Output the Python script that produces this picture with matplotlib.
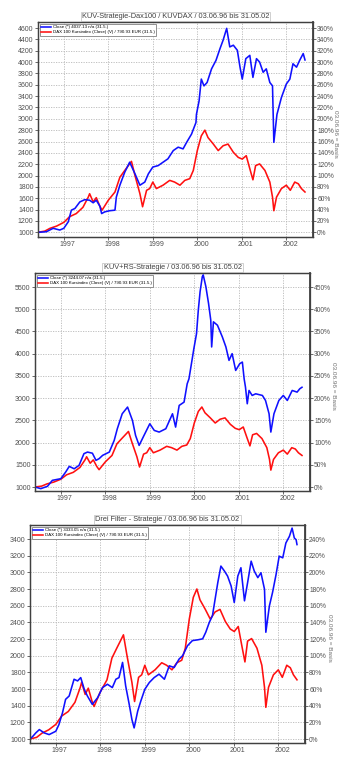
import matplotlib
matplotlib.use("Agg")
import matplotlib.pyplot as plt
from matplotlib.transforms import ScaledTranslation
from matplotlib.ticker import FixedLocator, FuncFormatter

plt.rcParams["font.family"] = ["Liberation Sans Narrow", "Liberation Sans", "DejaVu Sans"]

# Zeitachse in Dezimaljahren, Werte auf 03.06.96 = 1000 normiert
# DAX 100 Kursindex (gleiche Referenz in allen drei Strategien)
dax_t = [1996.42, 1996.57, 1996.69, 1996.84, 1997.00, 1997.13, 1997.28, 1997.43,
         1997.55, 1997.58, 1997.66, 1997.73, 1997.81, 1997.86, 1998.00, 1998.15,
         1998.26, 1998.37, 1998.45, 1998.52, 1998.60, 1998.71, 1998.77, 1998.86,
         1998.93, 1999.00, 1999.08, 1999.23, 1999.38, 1999.49, 1999.61, 1999.72,
         1999.83, 1999.91, 2000.00, 2000.09, 2000.17, 2000.24, 2000.36, 2000.47,
         2000.58, 2000.69, 2000.81, 2000.92, 2001.01, 2001.10, 2001.18, 2001.25,
         2001.31, 2001.40, 2001.52, 2001.63, 2001.69, 2001.72, 2001.78, 2001.89,
         2002.00, 2002.09, 2002.19, 2002.27, 2002.34, 2002.42]
dax_v = [1000, 1020, 1070, 1110, 1175, 1275, 1330, 1440,
         1620, 1680, 1535, 1610, 1460, 1390, 1565, 1710,
         1970, 2090, 2175, 2250, 2000, 1680, 1450, 1740,
         1770, 1885, 1770, 1830, 1915, 1885, 1830, 1915,
         1945, 2090, 2440, 2700, 2800, 2670, 2555, 2440,
         2525, 2555, 2410, 2320, 2290, 2350, 2120, 1925,
         2175, 2205, 2090, 1885, 1620, 1380, 1620, 1770,
         1830, 1740, 1885, 1855, 1770, 1710]

# KUV-Strategie-Dax100
kuv_t = [1996.42, 1996.61, 1996.76, 1996.91, 1997.00, 1997.10, 1997.17, 1997.25,
         1997.36, 1997.47, 1997.58, 1997.66, 1997.73, 1997.81, 1997.85, 1997.92,
         1998.03, 1998.15, 1998.18, 1998.26, 1998.37, 1998.48, 1998.60, 1998.71,
         1998.82, 1998.90, 1999.00, 1999.12, 1999.23, 1999.34, 1999.46, 1999.57,
         1999.68, 1999.76, 1999.87, 1999.97, 1999.98, 2000.04, 2000.09, 2000.15,
         2000.22, 2000.32, 2000.42, 2000.51, 2000.58, 2000.66, 2000.73, 2000.81,
         2000.90, 2000.96, 2001.01, 2001.09, 2001.18, 2001.25, 2001.33, 2001.40,
         2001.48, 2001.55, 2001.63, 2001.69, 2001.72, 2001.79, 2001.89, 2002.00,
         2002.08, 2002.15, 2002.23, 2002.30, 2002.38, 2002.42]
kuv_v = [1000, 1010, 1070, 1040, 1070, 1185, 1390, 1420,
         1535, 1575, 1565, 1520, 1565, 1460, 1330, 1360,
         1380, 1390, 1620, 1830, 2060, 2235, 2030, 1830,
         1885, 2030, 2150, 2175, 2235, 2295, 2440, 2500,
         2470, 2585, 2730, 2935, 3077, 3315, 3700, 3580,
         3640, 3880, 4030, 4237, 4386, 4594, 4267, 4297,
         4207, 3910, 3700, 4060, 4118, 3730, 4060, 4000,
         3820, 3880, 3640, 3580, 2585, 3077, 3375, 3612,
         3700, 3970, 3910, 4030, 4150, 4037]

# KUV+RS-Strategie
kuvrs_t = [1996.42, 1996.55, 1996.70, 1996.81, 1997.00, 1997.11, 1997.19, 1997.30,
           1997.41, 1997.52, 1997.60, 1997.71, 1997.79, 1997.86, 1997.94, 1998.09,
           1998.20, 1998.27, 1998.38, 1998.50, 1998.61, 1998.68, 1998.76, 1998.87,
           1999.00, 1999.10, 1999.21, 1999.36, 1999.51, 1999.58, 1999.66, 1999.77,
           1999.84, 1999.88, 1999.96, 1999.99, 2000.05, 2000.09, 2000.13, 2000.18,
           2000.20, 2000.26, 2000.32, 2000.37, 2000.39, 2000.43, 2000.52, 2000.63,
           2000.71, 2000.78, 2000.85, 2000.93, 2001.02, 2001.08, 2001.12, 2001.15,
           2001.19, 2001.23, 2001.30, 2001.38, 2001.53, 2001.60, 2001.68, 2001.72,
           2001.79, 2001.90, 2002.00, 2002.09, 2002.20, 2002.31, 2002.37, 2002.42]
kuvrs_v = [1000, 963, 1015, 1150, 1187, 1337, 1464, 1410,
           1487, 1750, 1786, 1760, 1600, 1637, 1712, 1786,
           2049, 2311, 2648, 2798, 2498, 2161, 1936, 2161,
           2423, 2273, 2236, 2311, 2648, 2348, 2835, 2910,
           3322, 3434, 3925, 4113, 4452, 4980, 5395, 5734,
           5772, 5508, 5131, 4754, 4151, 4716, 4640, 4377,
           4151, 3849, 4000, 3623, 3774, 3811, 3434, 3247,
           2873, 3172, 3060, 3097, 3060, 2947, 2648, 2236,
           2648, 2947, 3060, 2947, 3172, 3135, 3210, 3244]

# Drei Filter - Strategie
drei_t = [1996.42, 1996.48, 1996.55, 1996.63, 1996.74, 1996.85, 1997.00, 1997.07,
          1997.15, 1997.22, 1997.30, 1997.41, 1997.49, 1997.56, 1997.64, 1997.71,
          1997.82, 1997.94, 1998.05, 1998.16, 1998.27, 1998.35, 1998.42, 1998.50,
          1998.57, 1998.65, 1998.71, 1998.76, 1998.84, 1998.91, 1999.00, 1999.10,
          1999.21, 1999.32, 1999.44, 1999.55, 1999.66, 1999.77, 1999.85, 1999.96,
          2000.07, 2000.19, 2000.30, 2000.37, 2000.45, 2000.52, 2000.58, 2000.64,
          2000.71, 2000.79, 2000.86, 2000.94, 2001.01, 2001.09, 2001.16, 2001.24,
          2001.31, 2001.39, 2001.46, 2001.54, 2001.61, 2001.69, 2001.72, 2001.80,
          2001.87, 2001.95, 2002.02, 2002.10, 2002.17, 2002.25, 2002.31, 2002.36,
          2002.40, 2002.42]
drei_v = [1000, 1030, 1073, 1113, 1073, 1053, 1093, 1173,
          1314, 1476, 1516, 1717, 1697, 1737, 1596, 1516,
          1415, 1496, 1617, 1657, 1617, 1717, 1737, 1919,
          1637, 1415, 1234, 1133, 1334, 1455, 1596, 1677,
          1737, 1778, 1717, 1878, 1858, 1959, 2000, 2120,
          2181, 2190, 2202, 2281, 2400, 2479, 2678, 2876,
          3075, 3015, 2955, 2836, 2638, 2955, 3055, 2658,
          2876, 3134, 3015, 2936, 2995, 2797, 2281, 2598,
          2757, 2975, 3194, 3174, 3352, 3432, 3531, 3412,
          3392, 3333]

titles = ["KUV-Strategie-Dax100 / KUVDAX / 03.06.96 bis 31.05.02",
          "KUV+RS-Strategie / 03.06.96 bis 31.05.02",
          "Drei Filter - Strategie / 03.06.96 bis 31.05.02"]
close_labels = ["Close (*) 4037.13 n/a (31.5.)",
                "Close (*) 3244.07 n/a (31.5.)",
                "Close (*) 3333.05 n/a (31.5.)"]
dax_label = "DAX 100 Kursindex (Close) (V) / 790.93 EUR (31.5.)"
years = [1997, 1998, 1999, 2000, 2001, 2002]

W, H = 339, 770
# (links, oben, rechts, unten) in Pixeln, y-Grenzen, Tickabstand links / rechts
panels = [
    dict(box=(38, 22, 313, 237), ylim=(917, 4706), lstep=200, lmax=4600, rstep=20, rmax=360,
         t=kuv_t, v=kuv_v, lab_px=335),
    dict(box=(35, 273, 310, 491), ylim=(910, 5815), lstep=500, lmax=5500, rstep=50, rmax=450,
         t=kuvrs_t, v=kuvrs_v, lab_px=333),
    dict(box=(30, 525, 305, 743), ylim=(952, 3568), lstep=200, lmax=3400, rstep=20, rmax=240,
         t=drei_t, v=drei_v, lab_px=330),
]

fig = plt.figure(figsize=(W / 100, H / 100), dpi=100)
fig.patch.set_facecolor("white")

tick_col = "#505050"
for i, p in enumerate(panels):
    l, t, r, b = p["box"]
    ax = fig.add_axes([l / W, 1 - b / H, (r - l) / W, (b - t) / H])
    ax.plot(dax_t, dax_v, color="#ff1010", lw=1.15, zorder=3, label=dax_label)
    ax.plot(p["t"], p["v"], color="#1010ff", lw=1.15, zorder=4, label=close_labels[i])
    ax.set_xlim(1996.42, 2002.60)
    ax.set_ylim(*p["ylim"])

    ax.set_yticks(list(range(1000, p["lmax"] + 1, p["lstep"])))
    ax.set_xticks(years)
    ax.set_xticklabels([str(y) for y in years])
    ax.grid(True, color="#b8b8b8", lw=0.6, ls=(0, (1.5, 1.5)))
    ax.tick_params(labelsize=5, colors=tick_col, length=2, width=0.6, pad=1.2)
    for lbl in ax.get_xticklabels():
        lbl.set_transform(lbl.get_transform() + ScaledTranslation(4 / 100, 0, fig.dpi_scale_trans))
    for s in ax.spines.values():
        s.set_color("#404040")
        s.set_linewidth(0.9)

    # rechte Achse in Prozent ab Basis 1000
    ax2 = ax.twinx()
    y0, y1 = p["ylim"]
    ax2.set_ylim((y0 / 1000 - 1) * 100, (y1 / 1000 - 1) * 100)
    ax2.yaxis.set_major_locator(FixedLocator(list(range(0, p["rmax"] + 1, p["rstep"]))))
    ax2.yaxis.set_major_formatter(FuncFormatter(lambda x, pos: f"{x:.0f}%"))
    ax2.tick_params(labelsize=4.8, colors=tick_col, length=2, width=0.6, pad=1.0)
    for s in ax2.spines.values():
        s.set_color("#404040")
        s.set_linewidth(0.9)
    ax2.spines["right"].set_linewidth(1.3)
    ax2.set_ylabel("03.06.96 = Basis", rotation=270, fontsize=4.6, color="#707070")
    ax2.yaxis.set_label_coords((p["lab_px"] - l) / (r - l), 0.48)
    ax2.yaxis.label.set_va("center")

    ax.set_title(titles[i], fontsize=5.3, color="#404040", pad=3,
                 bbox=dict(boxstyle="square,pad=0.15", fc="white", ec="#c8c8c8", lw=0.6))

    handles, labels = ax.get_legend_handles_labels()
    leg = ax.legend(handles[::-1], labels[::-1], loc="upper left", fontsize=3.2,
                    frameon=True, fancybox=False, edgecolor="#808080", framealpha=1,
                    handlelength=2.2, handletextpad=0.5, borderpad=0.3, labelspacing=0.2,
                    borderaxespad=0.4)
    leg.get_frame().set_linewidth(0.6)
    leg.set_zorder(10)

fig.savefig("out.png", dpi=100, facecolor="white")
